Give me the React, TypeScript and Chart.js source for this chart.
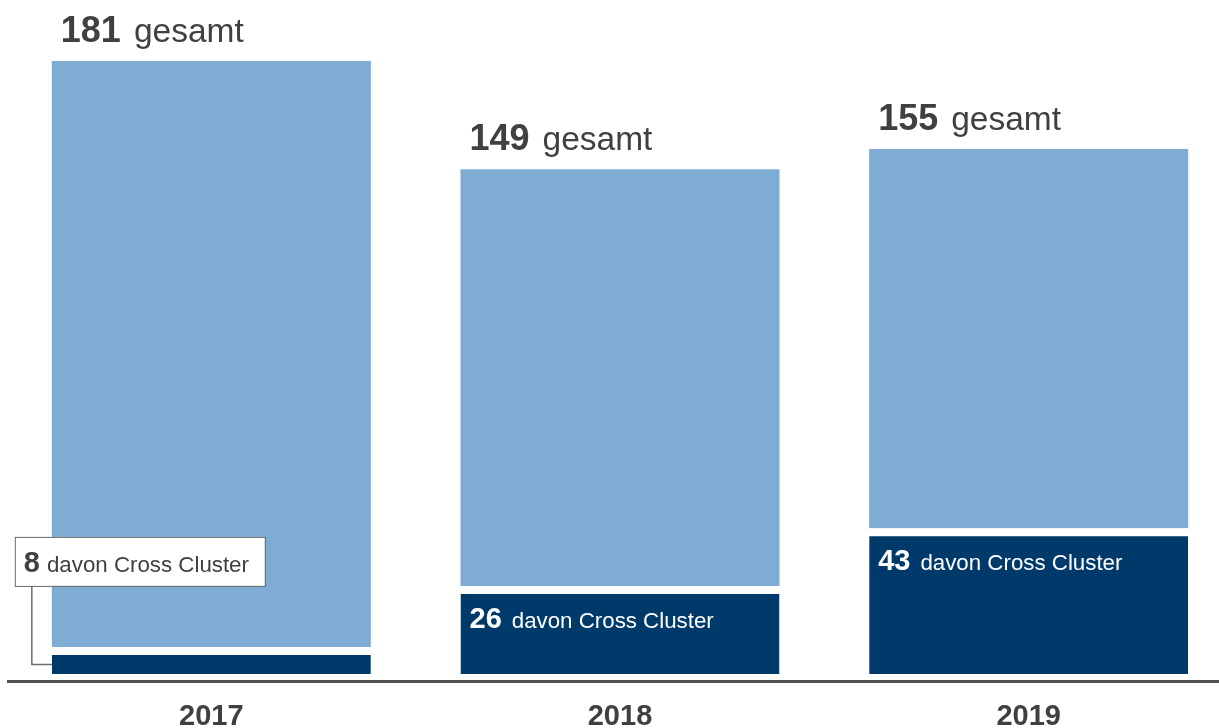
import React, { useEffect, useRef } from "react";
import { Chart, registerables } from "chart.js";

Chart.register(...registerables);

const years = ["2017", "2018", "2019"];
const totals = [181, 149, 155];
const crossCluster = [8, 26, 43];
const restValues = totals.map((t, i) => t - crossCluster[i]);
const totalSuffix = "gesamt";
const crossSuffix = "davon Cross Cluster";

const LIGHT = "#7facd4";
const DARK = "#003a6b";
const TEXT = "#404040";
const FONT = "'Liberation Sans', Arial, sans-serif";

const CANVAS_W = 1233;
const CANVAS_H = 728;

const labelPlugin = {
  id: "customLabels",
  afterDatasetsDraw(chart: any) {
    const ctx = chart.ctx as CanvasRenderingContext2D;
    const darkMeta = chart.getDatasetMeta(0);
    const lightMeta = chart.getDatasetMeta(1);
    const y = chart.scales.y;
    ctx.save();

    // axis line
    ctx.fillStyle = "#4f4f4f";
    ctx.fillRect(7, 680, CANVAS_W, 3);

    years.forEach((yr, i) => {
      const lightBar = lightMeta.data[i];
      const darkBar = darkMeta.data[i];
      const left = lightBar.x - lightBar.width / 2;

      // total label
      const topY = y.getPixelForValue(totals[i]);
      ctx.textBaseline = "alphabetic";
      ctx.textAlign = "left";
      ctx.fillStyle = TEXT;
      ctx.font = `bold 36px ${FONT}`;
      const num = String(totals[i]);
      const tx = left + 9;
      const ty = topY - 19;
      ctx.fillText(num, tx, ty);
      const nw = ctx.measureText(num).width;
      ctx.font = `33.5px ${FONT}`;
      ctx.fillText(totalSuffix, tx + nw + 13, ty);

      // cross cluster label
      const crossTop = y.getPixelForValue(crossCluster[i]);
      const base = y.getPixelForValue(0);
      const inner = base - crossTop - 8;
      const cnum = String(crossCluster[i]);
      if (inner > 40) {
        const by = crossTop + 8 + 34;
        ctx.fillStyle = "#ffffff";
        ctx.font = `bold 29px ${FONT}`;
        ctx.fillText(cnum, left + 9, by);
        const cw = ctx.measureText(cnum).width;
        ctx.font = `22.3px ${FONT}`;
        ctx.fillText(crossSuffix, left + 9 + cw + 10, by);
      } else {
        // callout box
        const bx = left - 37;
        const bTop = crossTop - 110;
        const bW = 250;
        const bH = 49;
        const midDark = (crossTop + 8 + base) / 2;
        ctx.strokeStyle = "#6b6b6b";
        ctx.lineWidth = 1.5;
        ctx.beginPath();
        ctx.moveTo(left - 20, bTop + bH);
        ctx.lineTo(left - 20, midDark);
        ctx.lineTo(left, midDark);
        ctx.stroke();
        ctx.fillStyle = "#ffffff";
        ctx.fillRect(bx, bTop, bW, bH);
        ctx.strokeStyle = "#6b6b6b";
        ctx.lineWidth = 1;
        ctx.strokeRect(bx + 0.5, bTop + 0.5, bW, bH);
        const by = bTop + 35;
        ctx.fillStyle = TEXT;
        ctx.font = `bold 29px ${FONT}`;
        ctx.fillText(cnum, bx + 9, by);
        const cw = ctx.measureText(cnum).width;
        ctx.font = `22.3px ${FONT}`;
        ctx.fillText(crossSuffix, bx + 9 + cw + 7, by);
      }

      // year label
      ctx.fillStyle = TEXT;
      ctx.textAlign = "center";
      ctx.textBaseline = "middle";
      ctx.font = `bold 29px ${FONT}`;
      ctx.fillText(yr, darkBar.x, 717);
    });
    ctx.restore();
  },
};

export default function App() {
  const ref = useRef<HTMLCanvasElement | null>(null);
  useEffect(() => {
    if (!ref.current) return;
    const chart = new Chart(ref.current, {
      type: "bar",
      data: {
        labels: years,
        datasets: [
          {
            label: "davon Cross Cluster",
            data: crossCluster,
            backgroundColor: DARK,
            borderColor: "#ffffff",
            borderWidth: { top: 8, left: 0, right: 0, bottom: 0 },
            borderSkipped: false,
            categoryPercentage: 1,
            barPercentage: 0.7806,
          },
          {
            label: "gesamt",
            data: restValues,
            backgroundColor: LIGHT,
            borderWidth: 0,
            categoryPercentage: 1,
            barPercentage: 0.7806,
          },
        ],
      },
      options: {
        responsive: false,
        animation: false,
        layout: { padding: { left: 7, right: 0, top: 0, bottom: 54 } },
        plugins: {
          legend: { display: false },
          tooltip: { enabled: false },
        },
        scales: {
          x: { stacked: true, display: false, offset: true },
          y: { stacked: true, display: false, min: 0, max: 199 },
        },
      },
      plugins: [labelPlugin],
    });
    return () => chart.destroy();
  }, []);
  return (
    <div
      style={{
        position: "fixed",
        left: 0,
        top: 0,
        width: 1219,
        height: 728,
        overflow: "hidden",
        background: "#fff",
      }}
    >
      <canvas
        ref={ref}
        width={CANVAS_W}
        height={CANVAS_H}
        style={{ display: "block", width: CANVAS_W, height: CANVAS_H }}
      />
    </div>
  );
}
